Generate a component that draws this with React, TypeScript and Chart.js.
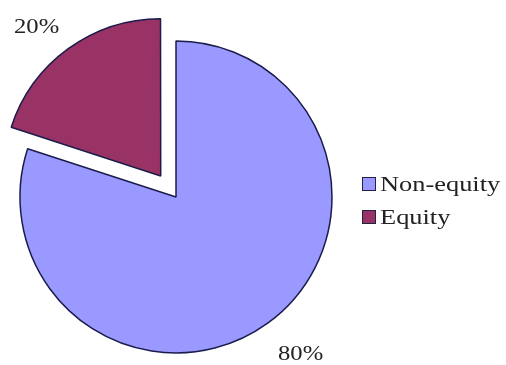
import React, { useEffect, useRef } from "react";
import { Chart, registerables } from "chart.js";

Chart.register(...registerables);

const categories = ["Non-equity", "Equity"];
const shares = [80, 20];
const sliceColors = ["#9999FF", "#993366"];
const explode = [0, 104];

const FONT = '"Liberation Serif", "Times New Roman", serif';

function drawText(ctx: CanvasRenderingContext2D, text: string, x: number, y: number, size: number, sx: number) {
  ctx.save();
  ctx.translate(x, y);
  ctx.scale(sx, 1);
  ctx.font = `${size}px ${FONT}`;
  ctx.fillStyle = "#222222";
  ctx.textAlign = "left";
  ctx.textBaseline = "alphabetic";
  ctx.fillText(text, 0, 0);
  ctx.restore();
}

const annotatePlugin = {
  id: "annotate",
  afterDraw(chart: any) {
    const ctx = chart.ctx as CanvasRenderingContext2D;
    drawText(ctx, `${shares[1]}%`, 14, 33, 22, 1.12);
    drawText(ctx, `${shares[0]}%`, 278, 360, 22, 1.12);
    const rows = [191, 224];
    categories.forEach((c, i) => {
      const y = rows[i];
      ctx.save();
      ctx.fillStyle = sliceColors[i];
      ctx.fillRect(362.5, y - 13.5, 13, 13);
      ctx.strokeStyle = "#222244";
      ctx.lineWidth = 1;
      ctx.strokeRect(362.5, y - 13.5, 13, 13);
      ctx.restore();
      drawText(ctx, c, 380, y, 22, 1.2);
    });
  },
};

export default function App() {
  const ref = useRef<HTMLCanvasElement>(null);
  useEffect(() => {
    document.body.style.margin = "0";
    const chart = new Chart(ref.current!, {
      type: "pie",
      data: {
        labels: categories,
        datasets: [
          {
            data: shares,
            backgroundColor: sliceColors,
            borderColor: "#1c1c4c",
            borderWidth: 1.5,
            offset: explode,
          },
        ],
      },
      options: {
        animation: false,
        responsive: false,
        radius: 156,
        layout: { padding: { left: 0, right: 154, top: 29, bottom: 0 } },
        plugins: {
          legend: { display: false },
          tooltip: { enabled: false },
        },
      } as any,
      plugins: [annotatePlugin],
    });
    return () => chart.destroy();
  }, []);
  return (
    <div style={{ width: 506, height: 365, background: "#fff" }}>
      <canvas ref={ref} width={506} height={365} style={{ display: "block" }} />
    </div>
  );
}
